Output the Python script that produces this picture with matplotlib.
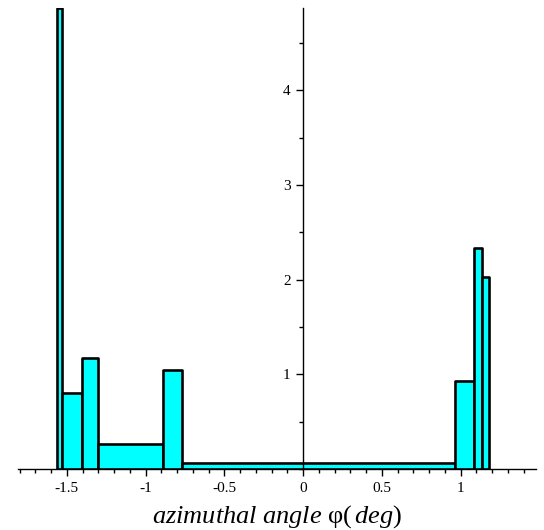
import matplotlib
matplotlib.use("Agg")
import matplotlib.pyplot as plt
import numpy as np
from matplotlib.ticker import MultipleLocator

# histogram bins (rad) and heights
bin_edges = [-1.565, -1.530, -1.403, -1.300, -0.889, -0.768, 0.965, 1.086, 1.137, 1.181]
heights = [4.87, 0.80, 1.17, 0.26, 1.05, 0.065, 0.93, 2.33, 2.03]

x_ticks = [-1.5, -1, -0.5, 0, 0.5, 1]
x_labels = ["-1.5", "-1", "-0.5", "0", "0.5", "1"]
y_ticks = [1, 2, 3, 4]

plt.rcParams['font.family'] = ['Liberation Serif', 'DejaVu Serif']
plt.rcParams['mathtext.fontset'] = 'custom'
plt.rcParams['mathtext.rm'] = 'Liberation Serif'
plt.rcParams['mathtext.it'] = 'Liberation Serif:italic'

fig = plt.figure(figsize=(5.44, 5.30), dpi=100)
ax = fig.add_axes([18/544, 61/530, 518/544, 461/530])

edges = np.array(bin_edges)
ax.bar(edges[:-1], heights, width=np.diff(edges), align='edge',
       color='#00FFFF', edgecolor='black', linewidth=1.9, joinstyle='round', zorder=3)

ax.set_xlim(-1.81, 1.479)
ax.set_ylim(0, 4.87)

for s in ['top', 'right']:
    ax.spines[s].set_visible(False)
ax.spines['left'].set_position(('data', 0))
ax.spines['bottom'].set_position(('data', 0))
ax.spines['left'].set_linewidth(1.0)
ax.spines['bottom'].set_linewidth(1.0)
ax.spines['left'].set_zorder(4)

ax.set_xticks(x_ticks)
ax.set_xticklabels(x_labels)
ax.xaxis.set_minor_locator(MultipleLocator(0.1))
ax.set_yticks(y_ticks)
ax.yaxis.set_minor_locator(MultipleLocator(0.5))
ax.tick_params(axis='both', which='major', direction='out', length=5, width=1, labelsize=11, pad=4)
ax.tick_params(axis='both', which='minor', direction='out', length=3, width=1)

ax.set_xlabel(r"$\mathit{azimuthal\ angle}\ \mathrm{φ}(\,\mathit{deg})$", fontsize=19, labelpad=6)

fig.savefig("out.png", dpi=100)
